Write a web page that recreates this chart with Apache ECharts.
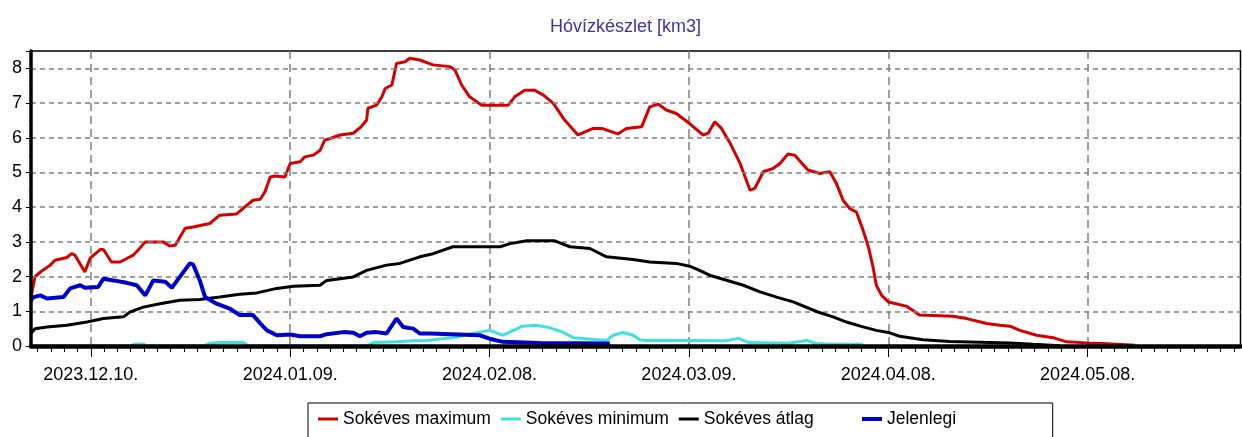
<!DOCTYPE html>
<html>
<head>
<meta charset="utf-8">
<script src="https://cdn.jsdelivr.net/npm/echarts@6/dist/echarts.min.js"></script>
<style>
html,body{margin:0;padding:0;background:#fff;}
#c{width:1242px;height:437px;}
</style>
</head>
<body>
<div id="c"></div>
<script>
// Day 0 = 2023-12-01
const startYear = 2023, startMonth = 11, startDay = 1;
const titleText = 'Hóvízkészlet [km3]';
const seriesNames = ['Sokéves maximum', 'Sokéves minimum', 'Sokéves átlag', 'Jelenlegi'];
const xLabelDays = [9, 39, 69, 99, 129, 159];
const yGridValues = [1, 2, 3, 4, 5, 6, 7, 8];

const maxData = [[0,1.41],[0.6,1.99],[1.4,2.13],[2.9,2.33],[3.6,2.47],[5.4,2.55],[6.1,2.66],[6.6,2.62],[8.1,2.13],[8.9,2.53],[10.4,2.78],[10.9,2.78],[12.1,2.42],[13.4,2.42],[14.4,2.52],[15.4,2.62],[16.1,2.76],[17.2,3.0],[19.9,3.0],[20.9,2.88],[21.7,2.9],[23.2,3.39],[24.4,3.43],[26.9,3.53],[28.4,3.77],[30.9,3.8],[32.5,4.06],[33.4,4.2],[34.5,4.23],[35.2,4.44],[36.0,4.87],[36.7,4.9],[38.2,4.87],[39.0,5.26],[40.5,5.31],[41.2,5.45],[42.5,5.5],[43.5,5.64],[44.2,5.93],[45.0,5.98],[46.5,6.08],[48.5,6.13],[49.7,6.32],[50.5,6.51],[50.7,6.85],[52.0,6.94],[52.8,7.18],[53.3,7.42],[54.3,7.52],[55.0,8.14],[56.3,8.19],[57.0,8.29],[58.5,8.24],[60.5,8.1],[63.0,8.05],[63.8,7.95],[64.8,7.52],[66.0,7.18],[67.8,6.94],[71.8,6.94],[72.8,7.18],[74.3,7.37],[75.8,7.37],[77.1,7.23],[78.6,6.99],[80.3,6.51],[82.3,6.08],[84.6,6.27],[85.9,6.27],[88.3,6.11],[89.6,6.27],[91.9,6.32],[93.1,6.89],[94.4,6.97],[95.6,6.8],[97.1,6.7],[99.1,6.41],[101.1,6.08],[101.9,6.13],[102.9,6.46],[103.9,6.27],[105.1,5.88],[106.7,5.26],[108.2,4.49],[108.9,4.54],[110.2,5.02],[111.7,5.12],[112.7,5.26],[113.9,5.53],[114.9,5.5],[116.9,5.07],[118.7,4.97],[120.2,5.02],[121.2,4.68],[122.2,4.2],[123.2,3.96],[124.2,3.86],[125.2,3.34],[126.0,2.86],[126.7,2.28],[127.2,1.75],[128.0,1.46],[129.0,1.27],[131.7,1.15],[133.7,0.89],[138.7,0.86],[140.8,0.79],[143.8,0.65],[145.8,0.6],[147.3,0.57],[148.8,0.45],[151.3,0.31],[153.8,0.24],[155.8,0.12],[158.8,0.09],[161.3,0.07],[166.1,0.02]];

const minData = [[0,0],[15.0,0],[15.5,0.05],[17.0,0.05],[17.5,0],[26.0,0],[27.0,0.08],[28.5,0.1],[32.0,0.1],[32.7,0],[50.5,0],[51.5,0.1],[55.0,0.12],[57.5,0.15],[59.5,0.16],[61.5,0.2],[64.0,0.25],[66.0,0.35],[67.5,0.4],[69.0,0.45],[71.0,0.31],[72.0,0.4],[74.0,0.57],[76.0,0.6],[78.0,0.53],[80.0,0.4],[81.6,0.24],[86.6,0.16],[87.6,0.31],[89.1,0.39],[90.6,0.31],[91.6,0.18],[92.6,0.16],[97.0,0.16],[104.5,0.15],[106.5,0.22],[108.0,0.1],[114.0,0.08],[116.7,0.16],[118.0,0.08],[120.0,0.05],[125.2,0.05]];

const avgData = [[0,0.36],[0.6,0.5],[2.4,0.55],[5.4,0.6],[8.4,0.69],[10.9,0.79],[13.9,0.84],[14.9,0.98],[16.9,1.12],[19.4,1.22],[22.4,1.32],[25.4,1.34],[28.4,1.41],[31.4,1.49],[34.0,1.53],[37.0,1.66],[39.5,1.72],[43.5,1.75],[44.5,1.89],[48.5,1.99],[50.5,2.18],[53.5,2.33],[55.5,2.38],[58.5,2.57],[60.5,2.66],[63.5,2.86],[70.6,2.86],[72.1,2.95],[74.6,3.03],[78.8,3.03],[81.1,2.86],[84.1,2.81],[86.6,2.57],[90.6,2.49],[93.1,2.42],[97.1,2.38],[99.1,2.3],[100.6,2.18],[102.1,2.04],[107.2,1.75],[109.7,1.56],[112.2,1.41],[114.7,1.27],[118.4,0.98],[120.7,0.84],[122.7,0.69],[125.2,0.55],[127.2,0.45],[129.2,0.38],[130.7,0.28],[134.2,0.18],[138.2,0.13],[147.3,0.09],[150.8,0.05],[154.8,0.01]];

const currentData = [[0,1.32],[0.4,1.41],[1.4,1.46],[2.4,1.37],[4.9,1.41],[5.9,1.66],[7.4,1.75],[8.1,1.68],[10.1,1.7],[10.9,1.94],[12.4,1.89],[14.4,1.82],[15.9,1.75],[17.2,1.46],[18.4,1.89],[20.2,1.85],[21.2,1.68],[22.2,1.94],[23.9,2.38],[24.4,2.35],[25.4,1.89],[26.2,1.41],[27.9,1.22],[29.9,1.08],[31.4,0.89],[33.4,0.89],[34.5,0.65],[35.5,0.45],[37.0,0.31],[39.0,0.33],[40.5,0.28],[43.5,0.28],[44.5,0.34],[47.0,0.4],[48.5,0.38],[49.5,0.28],[50.5,0.38],[52.0,0.4],[53.5,0.36],[55.0,0.79],[56.0,0.55],[57.5,0.5],[58.5,0.36],[60.0,0.36],[67.5,0.31],[69.0,0.21],[71.0,0.12],[76.6,0.09],[87.1,0.07]];

const colors = ['#d40000', '#40e0e0', '#000000', '#0000c8'];
const widths = [3, 3, 3, 4];

function dayLabel(d) {
  const dt = new Date(startYear, startMonth, startDay + Math.round(d));
  const mm = String(dt.getMonth() + 1).padStart(2, '0');
  const dd = String(dt.getDate()).padStart(2, '0');
  return dt.getFullYear() + '.' + mm + '.' + dd + '.';
}
const minorTickDays = [];
for (let d = 1; d < 182; d += 2) minorTickDays.push(d);

const FONT = '"Liberation Sans", Arial, sans-serif';
const allData = [maxData, minData, avgData, currentData];
const legendText = {fontFamily: FONT, fontSize: 17.5, color: '#000'};

const chart = echarts.init(document.getElementById('c'), null, {renderer: 'canvas'});
chart.setOption({
  animation: false,
  backgroundColor: '#ffffff',
  title: {
    text: titleText,
    left: 545, top: 13,
    textStyle: {fontFamily: FONT, fontSize: 18, fontWeight: 'normal', color: '#3535a8'}
  },
  legend: [{
    data: seriesNames.slice(0, 3),
    left: 308, top: 403,
    padding: [7, 239, 20, 10],
    itemGap: 10, itemWidth: 20, itemHeight: 3, icon: 'rect',
    borderColor: '#000', borderWidth: 1,
    textStyle: legendText
  }, {
    data: seriesNames.slice(3),
    left: 852, top: 403,
    padding: [7, 10, 20, 10],
    itemGap: 10, itemWidth: 20, itemHeight: 4, icon: 'rect',
    textStyle: legendText
  }],
  grid: {
    left: 31, right: 1.5, top: 51, bottom: 91,
    show: true, borderColor: '#000', borderWidth: 1.5, backgroundColor: '#fff'
  },
  xAxis: [{
    type: 'value', min: 0, max: 182,
    axisLine: {show: false},
    axisTick: {show: true, customValues: xLabelDays, length: 11, lineStyle: {color: '#000', width: 1}},
    axisLabel: {customValues: xLabelDays, formatter: dayLabel, margin: 20,
      fontFamily: FONT, fontSize: 18, color: '#000'},
    splitLine: {show: true, lineStyle: {color: '#808080', type: [8, 5], width: 1.5}}
  }, {
    type: 'value', min: 0, max: 182, position: 'bottom', gridIndex: 0, z: 20,
    axisLine: {show: true, onZero: false, lineStyle: {color: '#000', width: 4.5}},
    axisTick: {show: true, customValues: minorTickDays, length: 6, lineStyle: {color: '#000', width: 1}},
    axisLabel: {show: false},
    splitLine: {show: false}
  }],
  yAxis: {
    type: 'value', min: 0, max: 8.5, interval: 1, z: 20,
    axisLine: {show: true, onZero: false, lineStyle: {color: '#000', width: 3.5}},
    axisTick: {show: true, length: 5, lineStyle: {color: '#000', width: 1}},
    minorTick: {show: true, splitNumber: 2, length: 2, lineStyle: {color: '#000'}},
    axisLabel: {showMaxLabel: false, margin: 9, fontFamily: FONT, fontSize: 18, color: '#000'},
    splitLine: {show: false}
  },
  series: seriesNames.map(function (name, i) {
    return {
      name: name, type: 'line', data: allData[i],
      showSymbol: false, symbol: 'none',
      lineStyle: {color: colors[i], width: widths[i]},
      itemStyle: {color: colors[i]},
      z: 3 + i
    };
  }).concat([{
    type: 'line', data: [], silent: true,
    markLine: {
      silent: true, symbol: 'none', label: {show: false}, animation: false,
      lineStyle: {color: '#808080', type: [5, 4], width: 1.5},
      data: yGridValues.map(function (v) { return {yAxis: v}; })
    },
    z: 1
  }])
});
</script>
</body>
</html>
